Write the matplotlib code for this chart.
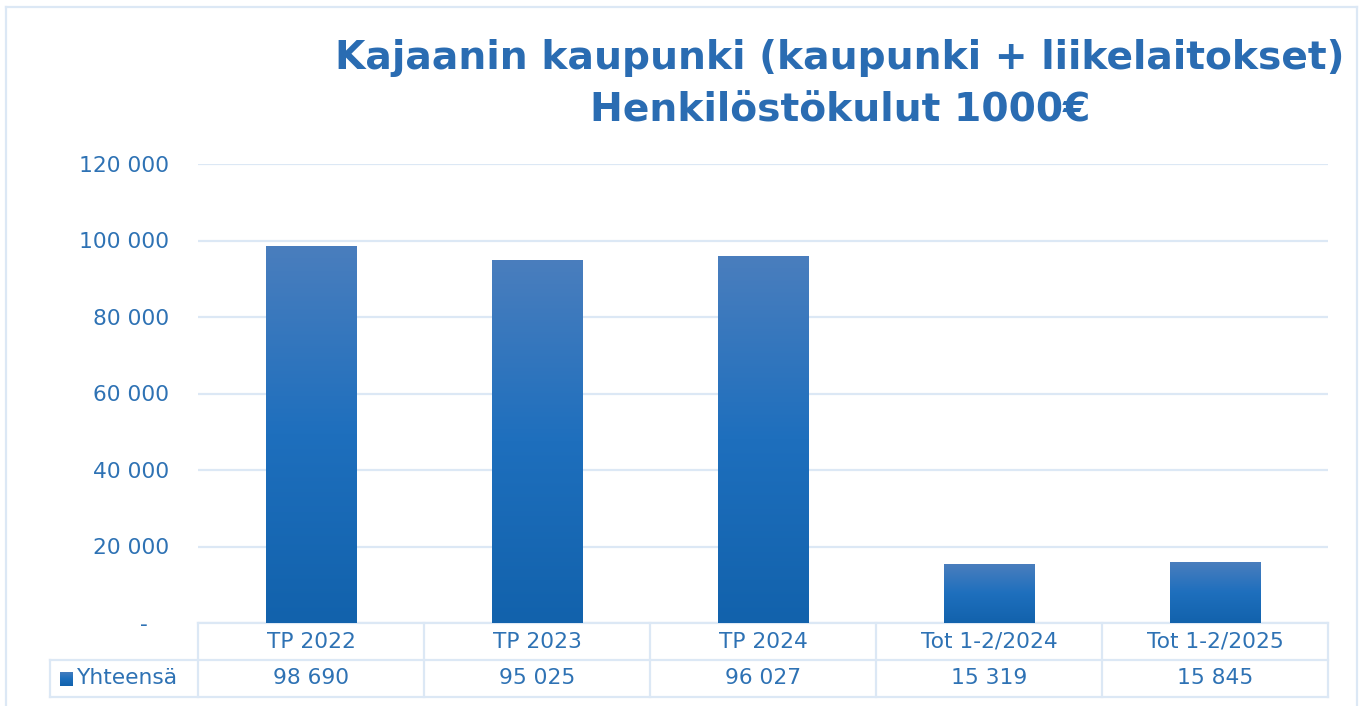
import matplotlib
matplotlib.use("Agg")
import matplotlib.pyplot as plt
import numpy as np
from matplotlib.colors import LinearSegmentedColormap
from matplotlib.lines import Line2D

categories = ["TP 2022", "TP 2023", "TP 2024", "Tot 1-2/2024", "Tot 1-2/2025"]
values = [98690, 95025, 96027, 15319, 15845]
series_name = "Yhteensä"
yticks = [0, 20000, 40000, 60000, 80000, 100000, 120000]
title_lines = ["Kajaanin kaupunki (kaupunki + liikelaitokset)", "Henkilöstökulut 1000€"]

TEXT = "#2e72b4"
TITLE = "#2a6cb2"
GRID = "#dce8f5"
FONT = "DejaVu Sans"
FS = 15.7

def fmt(v):
    if v == 0:
        return "-   "
    return f"{v:,.0f}".replace(",", " ")

W, H = 1365, 706
fig = plt.figure(figsize=(W / 100, H / 100), dpi=100)
fig.patch.set_facecolor("white")

ax_l, ax_r, ax_t, ax_b = 198, 1328, 164, 623
ax = fig.add_axes([ax_l / W, 1 - ax_b / H, (ax_r - ax_l) / W, (ax_b - ax_t) / H])

x = np.arange(len(categories))
bars = ax.bar(x, values, width=0.4, color="#1e6fbd", zorder=2, linewidth=0)

cmap = LinearSegmentedColormap.from_list("g", ["#1262ac", "#1e6fbd", "#4a7ebe"])
grad = np.linspace(0, 1, 256).reshape(-1, 1)
for b in bars:
    x0, y0 = b.get_x(), b.get_y()
    w, h = b.get_width(), b.get_height()
    im = ax.imshow(grad, cmap=cmap, aspect="auto", origin="lower",
                   extent=[x0, x0 + w, y0, y0 + h], zorder=3)
    im.set_clip_path(b)
    b.set_alpha(0)

ax.set_xlim(-0.5, len(categories) - 0.5)
ax.set_ylim(0, 120000)
ax.set_yticks(yticks)
ax.set_yticklabels([fmt(v) for v in yticks], fontsize=FS, color=TEXT, family=FONT)
ax.tick_params(axis="y", length=0, pad=21)
ax.tick_params(axis="x", length=0, labelbottom=False)
ax.set_xticks([])
for s in ax.spines.values():
    s.set_visible(False)
ax.grid(axis="y", color=GRID, linewidth=1.6, zorder=0)
ax.set_axisbelow(True)
ax.set_aspect("auto")

# data table
axh = ax_b - ax_t
axw = ax_r - ax_l
rh = 37 / axh
lx = (50 - ax_l) / axw
n = len(categories)
tr = ax.transAxes
def hline(y, x0, x1):
    ax.add_line(Line2D([x0, x1], [y, y], transform=tr, color=GRID, lw=1.6, clip_on=False, zorder=1))
def vline(xx, y0, y1):
    ax.add_line(Line2D([xx, xx], [y0, y1], transform=tr, color=GRID, lw=1.6, clip_on=False, zorder=1))

hline(0, 0, 1)
hline(-rh, lx, 1)
hline(-2 * rh, lx, 1)
for i in range(n + 1):
    vline(i / n, 0, -2 * rh)
vline(lx, -rh, -2 * rh)

for i, (c, v) in enumerate(zip(categories, values)):
    xc = (i + 0.5) / n
    ax.text(xc, -0.5 * rh, c, transform=tr, ha="center", va="center",
            fontsize=FS, color=TEXT, family=FONT)
    ax.text(xc, -1.5 * rh, fmt(v), transform=tr, ha="center", va="center",
            fontsize=FS, color=TEXT, family=FONT)

# legend key with gradient
kax = fig.add_axes([60 / W, 1 - (678.5 + 7) / H, 13 / W, 14 / H])
kax.imshow(grad, cmap=cmap, aspect="auto", origin="lower", extent=[0, 1, 0, 1])
kax.set_axis_off()
ax.text((77 - ax_l) / axw, -1.5 * rh, series_name, transform=tr, ha="left", va="center",
        fontsize=FS, color=TEXT, family=FONT)

# title
fig.text(840 / W, 1 - 58 / H, title_lines[0], ha="center", va="center",
         fontsize=28.3, fontweight="bold", color=TITLE, family=FONT)
fig.text(840 / W, 1 - 110 / H, title_lines[1], ha="center", va="center",
         fontsize=28.3, fontweight="bold", color=TITLE, family=FONT)

# outer chart border
for xs, ys in [([6, 6], [7, H]), ([6, 1357], [7, 7]), ([1357, 1357], [7, H])]:
    fig.add_artist(Line2D([xx / W for xx in xs], [1 - yy / H for yy in ys],
                          transform=fig.transFigure, color=GRID, lw=1.6))

fig.savefig("out.png", dpi=100, facecolor="white")
